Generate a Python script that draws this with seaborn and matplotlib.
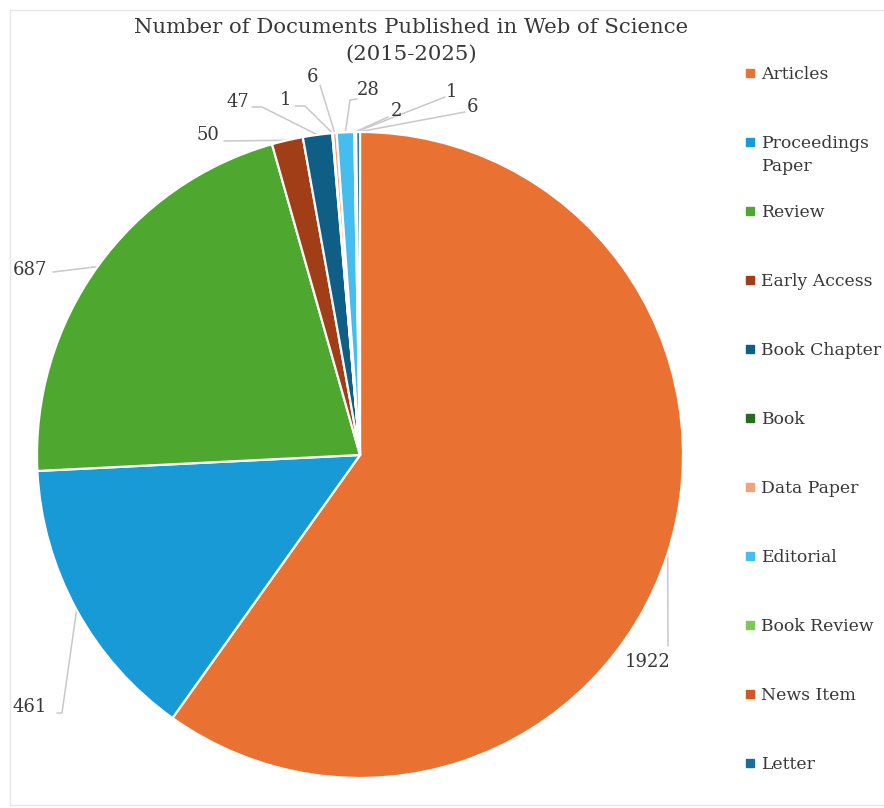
import numpy as np
import matplotlib
matplotlib.use("Agg")
import matplotlib.pyplot as plt
import matplotlib.patches as mpatches
from matplotlib.lines import Line2D
import seaborn as sns

# ---- data ----
categories = ["Articles", "Proceedings Paper", "Review", "Early Access", "Book Chapter",
              "Book", "Data Paper", "Editorial", "Book Review", "News Item", "Letter"]
counts = [1922, 461, 687, 50, 47, 1, 6, 28, 2, 1, 6]
title = "Number of Documents Published in Web of Science\n(2015-2025)"

# ---- style ----
colors = ["#E97132", "#179AD6", "#4EA72E", "#A23E17", "#0E5E86", "#2A6B22",
          "#F2A37E", "#45BDEE", "#7CC95A", "#D2581F", "#1A6E98"]
sns.set_theme(style="white")
plt.rcParams["font.family"] = ["DejaVu Serif", "DejaVu Sans"]
TXT = "#383838"

W, H = 884, 808
fig = plt.figure(figsize=(W / 100, H / 100), dpi=100)
ax = fig.add_axes([0, 0, 1, 1])

cx, cy, R = 360, H - 455, 323
wedges, _ = ax.pie(counts, colors=colors, startangle=90, counterclock=False,
                   center=(cx, cy), radius=R, frame=True,
                   wedgeprops=dict(edgecolor="white", linewidth=1.6))
ax.set_xlim(0, W)
ax.set_ylim(0, H)
ax.set_aspect("equal")
ax.axis("off")

# label layout (pixel coords, y down): text centre and leader-line path start
label_text_pos = [(648, 662), (30, 707), (30, 270), (208, 135), (238, 102), (286, 100),
                  (313, 77), (368, 90), (396, 111), (452, 92), (473, 107)]
leader_paths = [[(668, 646)], [(57, 713), (62, 713)], [(53, 272)], [(224, 141)],
                [(252, 107), (262, 107)], [(295, 106), (305, 106)], [(320, 85)],
                [(357, 99), (350, 100)], [(388, 117)], [(445, 97)], [(465, 112)]]

total = float(sum(counts))
cum = np.cumsum([0] + counts)
for i, v in enumerate(counts):
    mid = (cum[i] + cum[i + 1]) / 2 / total * 2 * np.pi
    ex = cx + R * np.sin(mid)
    ey = cy + R * np.cos(mid)
    pts = [(x, H - y) for x, y in leader_paths[i]] + [(ex, ey)]
    xs, ys = zip(*pts)
    ax.plot(xs, ys, color="#C8C8C8", lw=1.1, zorder=0.5)
    tx, ty = label_text_pos[i]
    ax.text(tx, H - ty, str(v), ha="center", va="center", fontsize=13,
            color=TXT)

fig.text(411 / W, 1 - 41 / H, title, ha="center", va="center", fontsize=15.3,
         color=TXT, linespacing=1.55)

# legend: wrapped entry is laid out like a single line, its second word below
leg_labels = [c.split(" ")[0] if c == "Proceedings Paper" else c for c in categories]
handles = [Line2D([0], [0], marker="s", linestyle="none", markersize=6.3,
                  markerfacecolor=c, markeredgecolor=c) for c in colors]
leg = fig.legend(handles, leg_labels, loc="upper left",
                 bbox_to_anchor=(733 / W, 1 - 57 / H), frameon=False,
                 fontsize=12.4, labelspacing=3.02, handletextpad=0.12,
                 handlelength=1.0, borderpad=0)
for t in leg.get_texts():
    t.set_color(TXT)

fig.canvas.draw()
ptxt = leg.get_texts()[1]
bb = ptxt.get_window_extent()
fig.text(bb.x0 / W, (bb.y0 - 23) / H, "Paper", ha="left", va="bottom",
         fontsize=12.4, color=TXT)

# faint chart frame
fig.patches.append(mpatches.Rectangle((10 / W, 3 / H), 1, 1 - 13 / H,
                                      transform=fig.transFigure, fill=False,
                                      edgecolor="#E6E6E6", lw=1))

fig.savefig("out.png", dpi=100)
